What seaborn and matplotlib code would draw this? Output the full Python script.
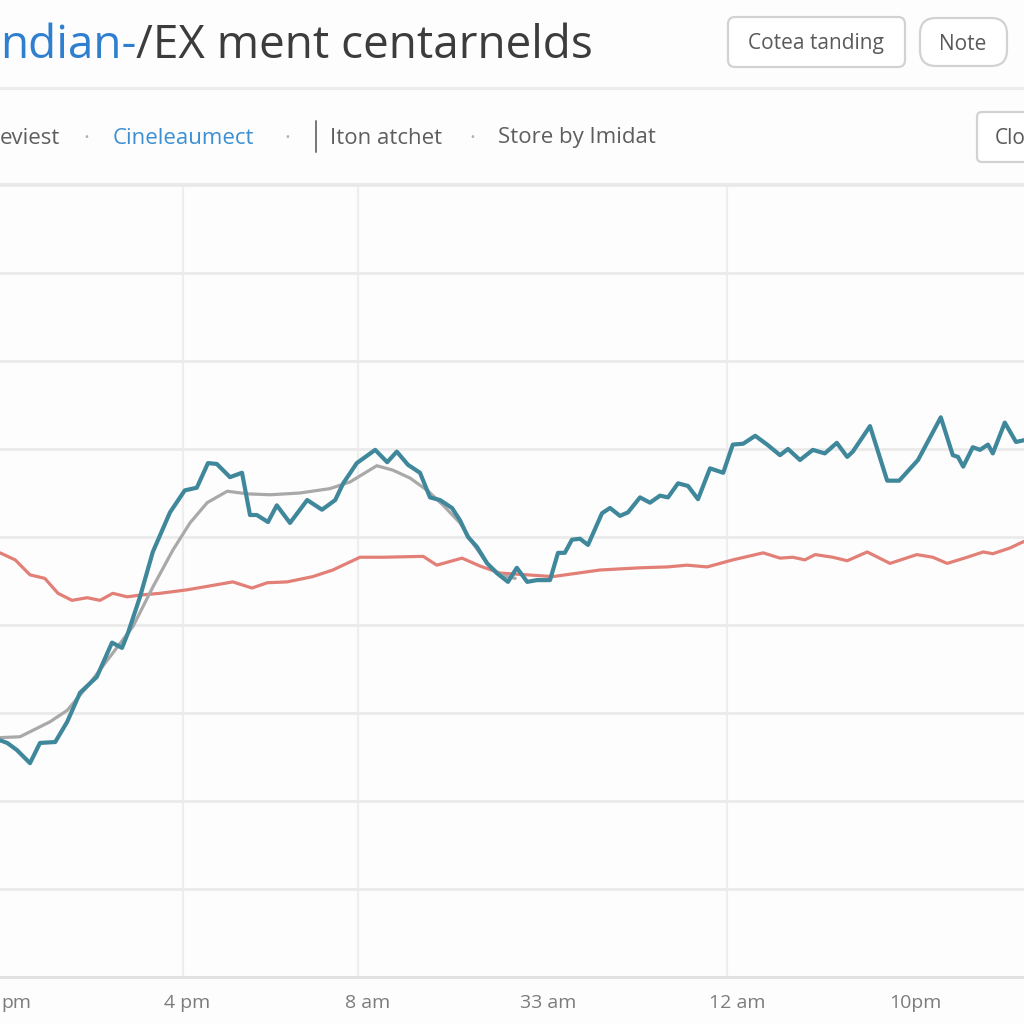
import matplotlib
matplotlib.use("Agg")
import matplotlib.pyplot as plt
from matplotlib.patches import FancyBboxPatch
from matplotlib.lines import Line2D
import seaborn as sns
import pandas as pd

# ---------------- data ----------------
teal_x = [0, 0.9, 2.1, 3.75, 5.0, 6.9, 8.4, 10.0, 12.1, 14.0, 15.25, 16.0, 17.5, 19.1, 21.25,
          23.1, 24.6, 26.0, 27.1, 28.75, 30.25, 31.25, 32.1, 33.5, 34.6, 36.25, 38.4, 40.25,
          41.9, 42.9, 44.6, 46.9, 48.4, 49.6, 51.0, 52.5, 53.75, 55.0, 56.5, 57.5, 58.5, 59.6,
          60.9, 62.1, 63.5, 64.6, 65.9, 67.1, 68.75, 69.75, 70.6, 71.5, 72.5, 73.5, 75.25, 76.25,
          77.5, 78.5, 80.0, 81.25, 82.5, 83.5, 84.75, 86.0, 87.25, 88.75, 90.4, 91.6, 92.9, 94.4,
          95.9, 97.5, 98.5, 100.0, 101.6, 103.1, 104.6, 105.9, 106.6, 108.75, 110.9, 112.4,
          114.75, 117.6, 119.1, 119.75, 120.4, 121.6, 122.5, 123.5, 124.1, 125.6, 127.0, 128.0]
teal_y = [26.9, 26.6, 25.8, 24.3, 26.6, 26.7, 29.0, 32.3, 34.1, 38.0, 37.4, 39.1, 43.2, 48.3, 52.8,
          55.3, 55.6, 58.4, 58.3, 56.8, 57.3, 52.5, 52.5, 51.7, 53.6, 51.6, 54.2, 53.1,
          54.2, 56.1, 58.4, 59.9, 58.5, 59.7, 58.2, 57.3, 54.5, 54.2, 53.3, 51.9, 50.0, 48.9,
          47.0, 45.9, 44.9, 46.5, 44.9, 45.1, 45.1, 48.2, 48.2, 49.7, 49.8, 49.1, 52.7, 53.3,
          52.4, 52.8, 54.5, 53.9, 54.7, 54.5, 56.1, 55.8, 54.3, 57.8, 57.3, 60.5, 60.6, 61.5,
          60.5, 59.3, 60.0, 58.75, 59.9, 59.5, 60.7, 59.1, 59.7, 62.6, 56.4, 56.4,
          58.75, 63.6, 59.3, 59.1, 58.0, 60.2, 59.9, 60.5, 59.5, 63.0, 60.8, 61.0]

gray_x = [0, 2.5, 6.25, 8.4, 10.9, 13.75, 16.6, 19.1, 21.6, 23.75, 25.9, 28.4, 31.0, 33.75,
          37.5, 41.25, 43.75, 47.1, 49.1, 51.25, 53.4, 55.4, 57.5, 59.1, 60.9, 62.5, 64.4]
gray_y = [27.2, 27.3, 29.0, 30.3, 33.0, 36.4, 39.8, 44.3, 48.5, 51.6, 53.9, 55.2, 54.9, 54.8,
          55.0, 55.5, 56.25, 58.1, 57.6, 56.7, 55.3, 53.6, 51.6, 49.3, 47.0, 45.7, 45.3]

red_x = [0, 1.9, 3.75, 5.6, 7.25, 9.0, 10.9, 12.5, 14.1, 15.9, 17.5, 20.0, 23.4, 26.6, 29.1,
         31.5, 33.4, 35.9, 39.1, 41.6, 45.0, 47.9, 52.9, 54.6, 57.75, 60.0, 62.5, 65.9, 69.1,
         75.0, 80.0, 83.4, 85.9, 88.4, 91.6, 95.4, 97.5, 99.1, 100.6, 101.9, 104.1, 105.9,
         108.4, 111.25, 114.6, 116.6, 118.4, 120.9, 122.9, 124.1, 126.25, 128.0]
red_y = [48.2, 47.4, 45.7, 45.3, 43.6, 42.8, 43.1, 42.8, 43.6, 43.2, 43.4, 43.6, 44.0, 44.5, 44.9,
         44.2, 44.8, 44.9, 45.5, 46.25, 47.7, 47.7, 47.8, 46.8, 47.6, 46.7, 45.9, 45.7, 45.5,
         46.25, 46.5, 46.6, 46.8, 46.6, 47.4, 48.2, 47.6, 47.7, 47.4, 48.0, 47.7, 47.3,
         48.3, 47.0, 48.0, 47.7, 47.0, 47.7, 48.3, 48.1, 48.75, 49.5]

tick_pos = [2.0, 23.4, 45.9, 68.5, 92.1, 114.4]
tick_labels = ["pm", "4 pm", "8 am", "33 am", "12 am", "10pm"]
vgrid_pos = [22.9, 44.75, 90.9]

title_blue = "ndian-"
title_rest = "/EX ment centarnelds"
buttons = ["Cotea tanding", "Note"]
nav_items = ["eviest", "Cineleaumect", "Iton atchet", "Store by Imidat"]

# ---------------- styling ----------------
sns.set_theme(style="white")
plt.rcParams["font.family"] = ["Open Sans", "DejaVu Sans"]

BG = "#fdfdfd"
fig = plt.figure(figsize=(10.24, 10.24), dpi=100, facecolor=BG)

def fx(px):
    return px / 1024.0

def fy(py):
    return 1 - py / 1024.0

ax = fig.add_axes([0, fy(977), 1.0, fy(185) - fy(977)])
ax.set_facecolor(BG)

df_red = pd.DataFrame({"x": red_x, "y": red_y})
df_gray = pd.DataFrame({"x": gray_x, "y": gray_y})
df_teal = pd.DataFrame({"x": teal_x, "y": teal_y})

sns.lineplot(data=df_red, x="x", y="y", ax=ax, color="#e27f76", linewidth=2.3,
             sort=False, estimator=None)
sns.lineplot(data=df_gray, x="x", y="y", ax=ax, color="#a9a9a9", linewidth=2.3,
             sort=False, estimator=None)
sns.lineplot(data=df_teal, x="x", y="y", ax=ax, color="#3f879a", linewidth=3.0,
             sort=False, estimator=None)

ax.set_xlim(0, 128)
ax.set_ylim(0, 90)
ax.set_yticks(range(0, 91, 10))
ax.set_yticklabels([])
ax.set_xticks(tick_pos)
ax.set_xticklabels(tick_labels, fontsize=14, color="#7c7c7c")
ax.set_xticks(vgrid_pos, minor=True)
ax.tick_params(axis="both", which="both", length=0)
ax.tick_params(axis="x", pad=12)
ax.set_xlabel("")
ax.set_ylabel("")
ax.grid(False)
ax.yaxis.grid(True, color="#ebebeb", linewidth=2.0)
ax.xaxis.grid(True, which="minor", color="#eeeeee", linewidth=1.6)
ax.set_axisbelow(True)
for s in ["left", "right", "top"]:
    ax.spines[s].set_visible(False)
ax.spines["bottom"].set_color("#e2e2e2")
ax.spines["bottom"].set_linewidth(2.2)

# ---------------- header ----------------
t1 = fig.text(fx(0), fy(46), title_blue, fontsize=33, color="#2f7fd0",
              va="center", ha="left")
fig.canvas.draw()
bb = t1.get_window_extent()
fig.text(bb.x1 / 1024.0, fy(46), title_rest, fontsize=33, color="#3c3c3c",
         va="center", ha="left")

def button(x0, y0, x1, y1, r, label, tx):
    p = FancyBboxPatch((fx(x0), fy(y1)), fx(x1 - x0), (y1 - y0) / 1024.0,
                       boxstyle=f"round,pad=0,rounding_size={r/1024.0}",
                       transform=fig.transFigure, facecolor="white",
                       edgecolor="#d2d2d2", linewidth=1.6)
    fig.add_artist(p)
    fig.text(fx(tx), fy((y0 + y1) / 2 + 2), label, fontsize=15, color="#5a5a5a",
             ha="center", va="center")

button(728, 17, 905, 67, 7, buttons[0], 816)
button(920, 18, 1007, 66, 16, buttons[1], 963)
button(977, 112, 1060, 162, 5, "Clo", 1010)

fig.add_artist(Line2D([0, 1], [fy(88), fy(88)], transform=fig.transFigure,
                      color="#ececec", linewidth=2.2))
fig.add_artist(Line2D([0, 1], [fy(184), fy(184)], transform=fig.transFigure,
                      color="#e9e9e9", linewidth=2.2))

nav_y = fy(138)
fig.text(fx(0), nav_y, nav_items[0], fontsize=16, color="#5e5e5e", ha="left", va="center")
fig.text(fx(86), nav_y, "·", fontsize=16, color="#b0b0b0", ha="center", va="center")
fig.text(fx(113), nav_y, nav_items[1], fontsize=16, color="#3b8fd2", ha="left", va="center")
fig.text(fx(287), nav_y, "·", fontsize=16, color="#b0b0b0", ha="center", va="center")
fig.add_artist(Line2D([fx(316), fx(316)], [fy(121), fy(152)], transform=fig.transFigure,
                      color="#777777", linewidth=1.4))
fig.text(fx(330), nav_y, nav_items[2], fontsize=16, color="#5e5e5e", ha="left", va="center")
fig.text(fx(472), nav_y, "·", fontsize=16, color="#b0b0b0", ha="center", va="center")
fig.text(fx(498), nav_y, nav_items[3], fontsize=16, color="#5e5e5e", ha="left", va="center")

fig.savefig("out.png", dpi=100, facecolor=BG)
